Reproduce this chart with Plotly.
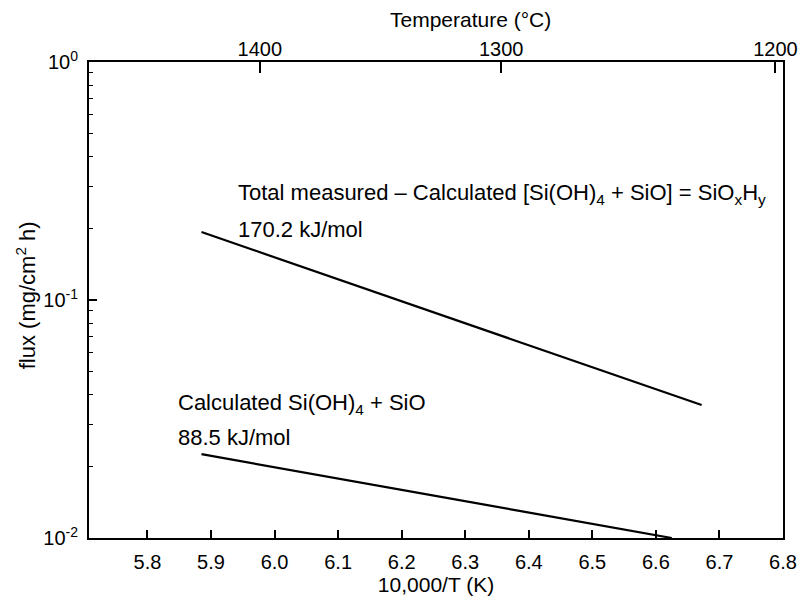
import plotly.graph_objects as go

# Data
x_total = [5.885, 6.672]          # 10,000/T (K)
y_total = [0.193, 0.0362]          # flux mg/cm2 h
x_calc = [5.885, 6.625]
y_calc = [0.0225, 0.0100]

x_ticks = [5.8, 5.9, 6.0, 6.1, 6.2, 6.3, 6.4, 6.5, 6.6, 6.7, 6.8]
x_ticklabels = ["5.8", "5.9", "6.0", "6.1", "6.2", "6.3", "6.4", "6.5", "6.6", "6.7", "6.8"]
temp_c = [1400, 1300, 1200]
temp_labels = ["1400", "1300", "1200"]
y_ticks = [0.01, 0.1, 1]
y_ticklabels = ["10<sup>-2</sup>", "10<sup>-1</sup>", "10<sup>0</sup>"]
y_minor = [m * 10 ** e for e in (-2, -1) for m in range(2, 10)]

x_range = [5.708, 6.8]
top_pos = [10000.0 / (t + 273.15) for t in temp_c]

FONT = "Liberation Sans, Arial, sans-serif"

fig = go.Figure()
fig.add_trace(go.Scatter(x=x_total, y=y_total, mode="lines",
                         line=dict(color="black", width=2.2), hoverinfo="skip", showlegend=False))
fig.add_trace(go.Scatter(x=x_calc, y=y_calc, mode="lines",
                         line=dict(color="black", width=2.2), hoverinfo="skip", showlegend=False))
# invisible trace to anchor top temperature axis
fig.add_trace(go.Scatter(x=top_pos, y=[0.5] * len(top_pos), xaxis="x2", mode="markers",
                         marker=dict(opacity=0), hoverinfo="skip", showlegend=False))

fig.update_layout(
    width=810, height=610,
    margin=dict(l=89, r=20, t=62, b=72),
    paper_bgcolor="white", plot_bgcolor="white",
    font=dict(family=FONT, size=20, color="black"),
    xaxis=dict(range=x_range, tickvals=x_ticks, ticktext=x_ticklabels,
               ticks="inside", ticklen=8, tickwidth=1.5, tickcolor="black",
               showline=True, linecolor="black", linewidth=2, mirror=True,
               showgrid=False, zeroline=False, ticklabelstandoff=5,
               tickfont=dict(size=20),
               title=dict(text="10,000/T (K)", font=dict(size=21), standoff=4)),
    xaxis2=dict(range=x_range, overlaying="x", side="top", tickvals=top_pos,
                ticktext=temp_labels, ticks="inside", ticklen=11, tickwidth=1.5,
                tickcolor="black", showline=False, showgrid=False, zeroline=False,
                ticklabelstandoff=1, tickfont=dict(size=20)),
    yaxis=dict(type="log", range=[-2, 0], tickvals=y_ticks, ticktext=y_ticklabels,
               ticks="inside", ticklen=8, tickwidth=1.5, tickcolor="black",
               minor=dict(tickvals=y_minor, ticks="inside", ticklen=4, tickcolor="black", tickwidth=1),
               showline=True, linecolor="black", linewidth=2, mirror=True,
               showgrid=False, zeroline=False, ticklabelstandoff=5,
               tickfont=dict(size=20)),
    annotations=[
        dict(text="Temperature (°C)", xref="paper", yref="paper", x=0.55, y=1.0,
             yshift=43, showarrow=False, font=dict(size=21), xanchor="center", yanchor="middle"),
        dict(text="flux (mg/cm<sup>2</sup> h)", xref="paper", yref="paper", x=0.0, y=0.51,
             xshift=-63, textangle=-90, showarrow=False, font=dict(size=22),
             xanchor="center", yanchor="middle"),
        dict(text="Total measured – Calculated [Si(OH)<sub>4</sub> + SiO] = SiO<sub>x</sub>H<sub>y</sub>",
             x=5.940, y=-0.555, xref="x", yref="y", showarrow=False, xanchor="left",
             yanchor="middle", font=dict(size=22)),
        dict(text="170.2 kJ/mol", x=5.940, y=-0.703, xref="x", yref="y", showarrow=False,
             xanchor="left", yanchor="middle", font=dict(size=22)),
        dict(text="Calculated Si(OH)<sub>4</sub> + SiO", x=5.845, y=-1.435, xref="x", yref="y",
             showarrow=False, xanchor="left", yanchor="middle", font=dict(size=22)),
        dict(text="88.5 kJ/mol", x=5.845, y=-1.579, xref="x", yref="y", showarrow=False,
             xanchor="left", yanchor="middle", font=dict(size=22)),
    ],
)

fig.write_html("out.html")
